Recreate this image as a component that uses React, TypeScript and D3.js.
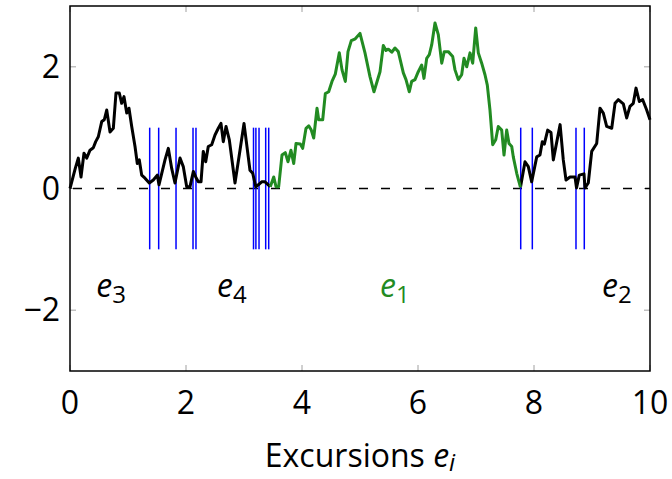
import React from 'react';
import * as d3 from 'd3';

// path of the walk, split into the three coloured pieces (time, value)
const leftT = [0, 0.091, 0.143, 0.19, 0.241, 0.288, 0.345, 0.402, 0.443, 0.488, 0.547, 0.591, 0.633, 0.69, 0.747, 0.793, 0.85, 0.891, 0.931, 0.978, 1.017, 1.064, 1.121, 1.16, 1.195, 1.236, 1.293, 1.367, 1.436, 1.505, 1.534, 1.638, 1.695, 1.753, 1.81, 1.897, 1.953, 2.012, 2.069, 2.126, 2.167, 2.212, 2.259, 2.298, 2.34, 2.384, 2.443, 2.5, 2.557, 2.603, 2.643, 2.69, 2.747, 2.845, 2.931, 3.0, 3.103, 3.15, 3.202, 3.247, 3.305, 3.362, 3.419, 3.453];
const leftV = [0, 0.33, 0.5, 0.19, 0.58, 0.5, 0.63, 0.67, 0.77, 0.85, 1.1, 1.13, 1.29, 0.93, 0.99, 1.57, 1.57, 1.4, 1.51, 1.24, 1.32, 1.02, 0.69, 0.41, 0.47, 0.22, 0.17, 0.09, 0.14, 0.22, 0.06, 0.47, 0.66, 0.33, 0.09, 0.5, 0.36, 0.03, 0.03, 0.28, 0.19, 0.11, 0.11, 0.61, 0.44, 0.69, 0.72, 0.88, 0.99, 1.07, 0.77, 1.02, 0.8, 0.09, 0.63, 1.07, 0.3, 0.25, 0.03, 0.06, 0.11, 0.11, 0.06, 0.03];

const midT = [3.453, 3.512, 3.552, 3.598, 3.655, 3.712, 3.759, 3.81, 3.857, 3.897, 3.971, 4.012, 4.069, 4.116, 4.16, 4.202, 4.259, 4.288, 4.357, 4.402, 4.46, 4.517, 4.574, 4.643, 4.69, 4.747, 4.793, 4.85, 4.919, 5.0, 5.086, 5.172, 5.241, 5.345, 5.402, 5.448, 5.488, 5.547, 5.603, 5.66, 5.747, 5.793, 5.85, 5.891, 5.948, 6.005, 6.064, 6.103, 6.15, 6.195, 6.236, 6.293, 6.35, 6.409, 6.453, 6.522, 6.598, 6.638, 6.695, 6.753, 6.793, 6.84, 6.897, 6.943, 6.995, 7.04, 7.098, 7.155, 7.195, 7.241, 7.288, 7.34, 7.384, 7.443, 7.483, 7.529, 7.569, 7.616, 7.643, 7.702, 7.767];
const midV = [0.03, 0.19, 0.03, 0.03, 0.55, 0.59, 0.44, 0.63, 0.41, 0.74, 0.73, 0.66, 0.99, 1.03, 0.96, 0.83, 1.32, 1.13, 1.13, 1.56, 1.59, 1.76, 1.88, 2.23, 1.95, 1.76, 2.25, 2.43, 2.46, 2.55, 2.23, 1.84, 1.59, 1.92, 2.35, 2.27, 2.29, 2.24, 2.31, 2.25, 1.9, 1.79, 1.59, 1.76, 1.79, 1.92, 2.03, 1.81, 2.14, 2.2, 2.36, 2.72, 2.53, 2.06, 2.25, 2.25, 2.17, 1.95, 1.79, 1.87, 2.14, 2.0, 2.23, 2.06, 2.64, 2.23, 2.06, 1.87, 1.7, 1.29, 0.72, 0.8, 1.02, 0.96, 0.55, 0.96, 0.74, 0.69, 0.52, 0.25, 0.02];

const rightT = [7.767, 7.845, 7.902, 7.96, 8.047, 8.103, 8.143, 8.178, 8.236, 8.293, 8.333, 8.45, 8.505, 8.552, 8.621, 8.707, 8.733, 8.781, 8.862, 8.879, 8.936, 8.995, 9.081, 9.138, 9.195, 9.253, 9.34, 9.397, 9.453, 9.54, 9.598, 9.655, 9.712, 9.759, 9.816, 9.874, 9.943, 10.0];
const rightV = [0.02, 0.44, 0.36, 0.11, 0.52, 0.55, 0.77, 0.73, 0.96, 0.92, 0.47, 1.05, 0.47, 0.14, 0.19, 0.19, 0.01, 0.22, 0.24, 0.01, 0.09, 0.61, 0.74, 1.32, 1.24, 1.02, 0.99, 1.4, 1.46, 1.39, 1.16, 1.35, 1.4, 1.65, 1.43, 1.46, 1.29, 1.13];

// zero marks (blue vertical lines)
const zeroMarks = [1.374, 1.529, 1.828, 2.121, 2.172, 3.164, 3.205, 3.259, 3.374, 3.426, 7.771, 7.971, 8.724, 8.867];

const xTicks = [0, 2, 4, 6, 8, 10];
const yTicks = [-2, 0, 2];

const labels = [
  { name: '3', t: 0.71, green: false },
  { name: '4', t: 2.79, green: false },
  { name: '1', t: 5.6, green: true },
  { name: '2', t: 9.43, green: false },
];

const W = 672;
const H = 479;
const margin = { top: 6, right: 22, bottom: 108, left: 70 };
const GREEN = '#228b22';
const FONT = "'Open Sans', 'DejaVu Sans', sans-serif";
const FS = 32;
const SUB = 24;

const App = () => {
  const iw = W - margin.left - margin.right;
  const ih = H - margin.top - margin.bottom;

  const x = d3.scaleLinear().domain([0, 10]).range([0, iw]);
  const y = d3.scaleLinear().domain([-3, 3]).range([ih, 0]);

  const line = d3.line<[number, number]>()
    .x(d => x(d[0]))
    .y(d => y(d[1]));

  const zip = (ts: number[], vs: number[]) => ts.map((t, i) => [t, vs[i]] as [number, number]);

  return (
    <svg width={W} height={H} style={{ position: 'absolute', left: 0, top: 0 }}>
      <g transform={`translate(${margin.left},${margin.top})`}>
        {/* ticks on all four sides, pointing in */}
        {xTicks.map(t => (
          <g key={'xt' + t} stroke="#a0a0a0" strokeWidth={1}>
            <line x1={x(t)} x2={x(t)} y1={ih} y2={ih - 6} />
            <line x1={x(t)} x2={x(t)} y1={0} y2={6} />
          </g>
        ))}
        {yTicks.map(t => (
          <g key={'yt' + t} stroke="#a0a0a0" strokeWidth={1}>
            <line x1={0} x2={6} y1={y(t)} y2={y(t)} />
            <line x1={iw} x2={iw - 6} y1={y(t)} y2={y(t)} />
          </g>
        ))}

        <line x1={x(0)} x2={x(10)} y1={y(0)} y2={y(0)} stroke="#000" strokeWidth={1.5} strokeDasharray="9 13" strokeDashoffset={-3} />

        {zeroMarks.map((t, i) => (
          <line key={'z' + i} x1={x(t)} x2={x(t)} y1={y(1)} y2={y(-1)} stroke="#0000ff" strokeWidth={1.5} />
        ))}

        <path d={line(zip(leftT, leftV)) || ''} fill="none" stroke="#000" strokeWidth={3} strokeLinejoin="round" />
        <path d={line(zip(rightT, rightV)) || ''} fill="none" stroke="#000" strokeWidth={3} strokeLinejoin="round" />
        <path d={line(zip(midT, midV)) || ''} fill="none" stroke={GREEN} strokeWidth={3} strokeLinejoin="round" />

        {labels.map(l => (
          <text key={'l' + l.name} x={x(l.t)} y={y(-1.78)} textAnchor="middle" fontFamily={FONT} fontSize={FS} fill={l.green ? GREEN : '#000'}>
            <tspan fontStyle="italic">e</tspan>
            <tspan fontSize={SUB} dy={6}>{l.name}</tspan>
          </text>
        ))}

        <rect x={0} y={0} width={iw} height={ih} fill="none" stroke="#000" strokeWidth={1.5} />

        {xTicks.map(t => (
          <text key={'xl' + t} x={x(t)} y={ih + 43} textAnchor="middle" fontFamily={FONT} fontSize={FS}>{t}</text>
        ))}
        {yTicks.map(t => (
          <text key={'yl' + t} x={-10} y={y(t) + 11} textAnchor="end" fontFamily={FONT} fontSize={FS}>{t < 0 ? '\u2212' + Math.abs(t) : t}</text>
        ))}

        <text x={iw / 2} y={ih + 96} textAnchor="middle" fontFamily={FONT} fontSize={FS}>
          Excursions <tspan fontStyle="italic">e</tspan><tspan fontStyle="italic" fontSize={SUB} dy={4}>i</tspan>
        </text>
      </g>
    </svg>
  );
};

export default App;
